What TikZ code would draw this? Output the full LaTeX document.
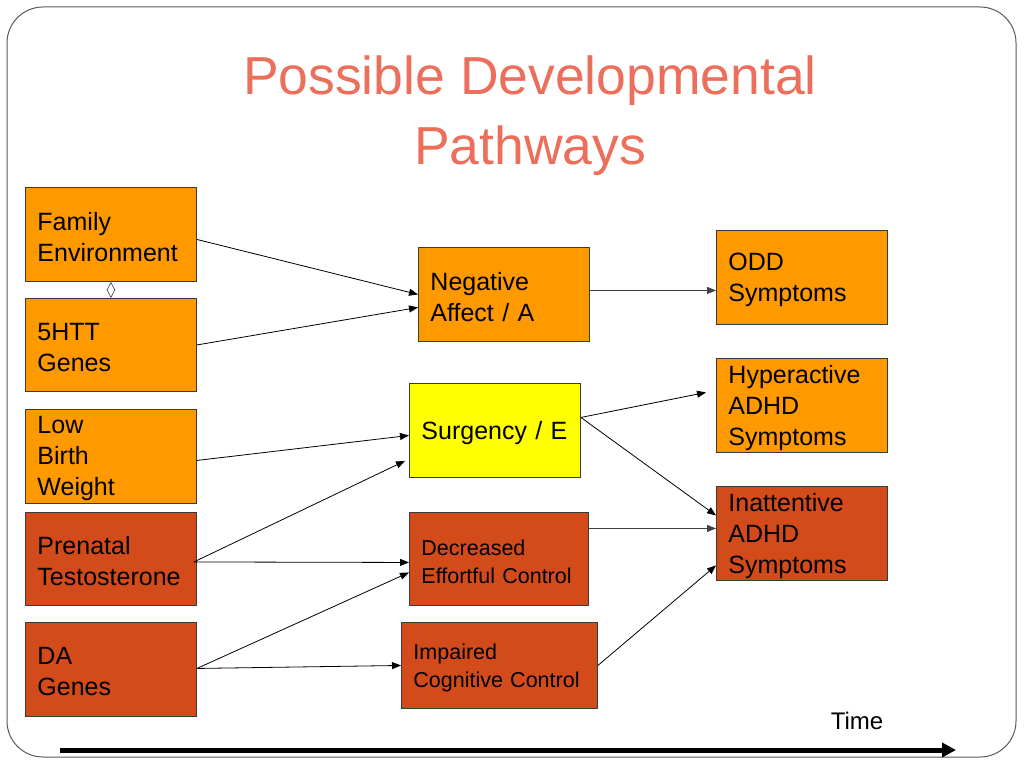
\documentclass[tikz,border=0pt]{standalone}
\usepackage{fontspec}
\setmainfont{Liberation Sans}
\usetikzlibrary{arrows.meta,calc,shapes.geometric}
\definecolor{orng}{HTML}{FF9900}
\definecolor{rdor}{HTML}{D34B1A}
\definecolor{yel}{HTML}{FFFF00}
\definecolor{ttl}{HTML}{EC6F5C}
\definecolor{edge}{HTML}{3A3A3A}
\tikzset{
  boxbase/.style={draw=edge, line width=0.9pt, rectangle, inner sep=0pt, anchor=north west},
  obox/.style={boxbase, fill=orng},
  rbox/.style={boxbase, fill=rdor},
  ybox/.style={boxbase, fill=yel},
  btext/.style={align=left, inner sep=0pt, font=\fontsize{25}{31}\selectfont},
  small/.style={font=\fontsize{21.5}{28}\selectfont},
  conn/.style={draw=black, line width=0.8pt, -{Triangle[length=9pt,width=7pt]}},
  gconn/.style={draw=black!75, line width=0.8pt, -{Triangle[length=9pt,width=7pt]}},
}
\newcommand{\bx}[8]{% name, box style, text style, x, y, w, h, text
  \node[#2, minimum width=#6pt, minimum height=#7pt] (#1) at (#4,#5) {};
  \node[btext, #3, text width=#6pt-24pt] (#1-t) at ($(#1.center)+(0,2.5)$) {#8};}
\begin{document}
\begin{tikzpicture}[x=1pt,y=-1pt]
\useasboundingbox (0,0) rectangle (1024,768);
\draw[draw=black!65, line width=1pt, rounded corners=36pt] (7,7) rectangle (1016,757);

\node[text=ttl, align=center, font=\fontsize{53.5}{70}\selectfont] (title) at (530,116) {Possible Developmental\\Pathways};

\bx{fam}{obox}{}{25}{187}{171}{94}{Family\\Environment}
\bx{htt}{obox}{}{25}{298}{171}{93}{5HTT\\Genes}
\bx{low}{obox}{}{25}{409}{171}{94}{Low\\Birth\\Weight}
\bx{pre}{rbox}{}{25}{512}{171}{93}{Prenatal\\Testosterone}
\bx{da}{rbox}{}{25}{622}{171}{94}{DA\\Genes}
\bx{neg}{obox}{}{418}{247}{171}{94}{Negative\\Affect / A}
\bx{surg}{ybox}{}{409}{383}{171}{94}{Surgency / E}
\bx{dec}{rbox}{small}{409}{512}{179}{93}{Decreased\\Effortful Control}
\bx{imp}{rbox}{small}{401}{622}{196}{86}{Impaired\\Cognitive Control}
\bx{odd}{obox}{}{716}{230}{171}{94}{ODD\\Symptoms}
\bx{hyp}{obox}{}{716}{358}{171}{94}{Hyperactive\\ADHD\\Symptoms}
\bx{inat}{rbox}{}{716}{486}{171}{94}{Inattentive\\ADHD\\Symptoms}

\node[draw=edge, fill=white, diamond, line width=0.6pt, inner sep=0pt, minimum width=8pt, minimum height=15pt] (dia) at ($(fam.south)!0.5!(htt.north)$) {};

\draw[conn] ($(fam.east)+(0,5)$) -- (neg.west);
\draw[conn] (htt.east) -- ($(neg.west)+(0,13)$);
\draw[gconn] ($(neg.east)+(0,-4)$) -- ($(odd.west)+(0,13)$);
\draw[conn] ($(low.east)+(0,4)$) -- ($(surg.west)+(0,5)$);
\draw[conn] ($(pre.east)+(-3,3)$) -- ($(surg.south west)+(-4,-17)$);
\draw[conn] ($(pre.east)+(-3,3)$) -- ($(dec.west)+(0,3.5)$);
\draw[conn] ($(da.east)+(0,-1)$) -- ($(dec.west)+(0,13.5)$);
\draw[conn] ($(da.east)+(0,-1)$) -- ($(imp.west)+(0,0)$);
\draw[conn] ($(surg.east)+(0,-13)$) -- ($(hyp.west)+(-10,-13)$);
\draw[conn] ($(surg.east)+(0,-13)$) -- ($(inat.west)+(0,-18)$);
\draw[gconn] ($(dec.east)+(0,-30.5)$) -- ($(inat.west)+(0,-5)$);
\draw[conn] (imp.east) -- ($(inat.west)+(0,32)$);

\node[font=\fontsize{24}{28}\selectfont] (time) at (857,721) {Time};
\coordinate (t0) at (60,750);
\coordinate (t1) at (956,750);
\draw[line width=5pt, -{Triangle[length=14pt,width=14pt]}] (t0) -- (t1);
\end{tikzpicture}
\end{document}
